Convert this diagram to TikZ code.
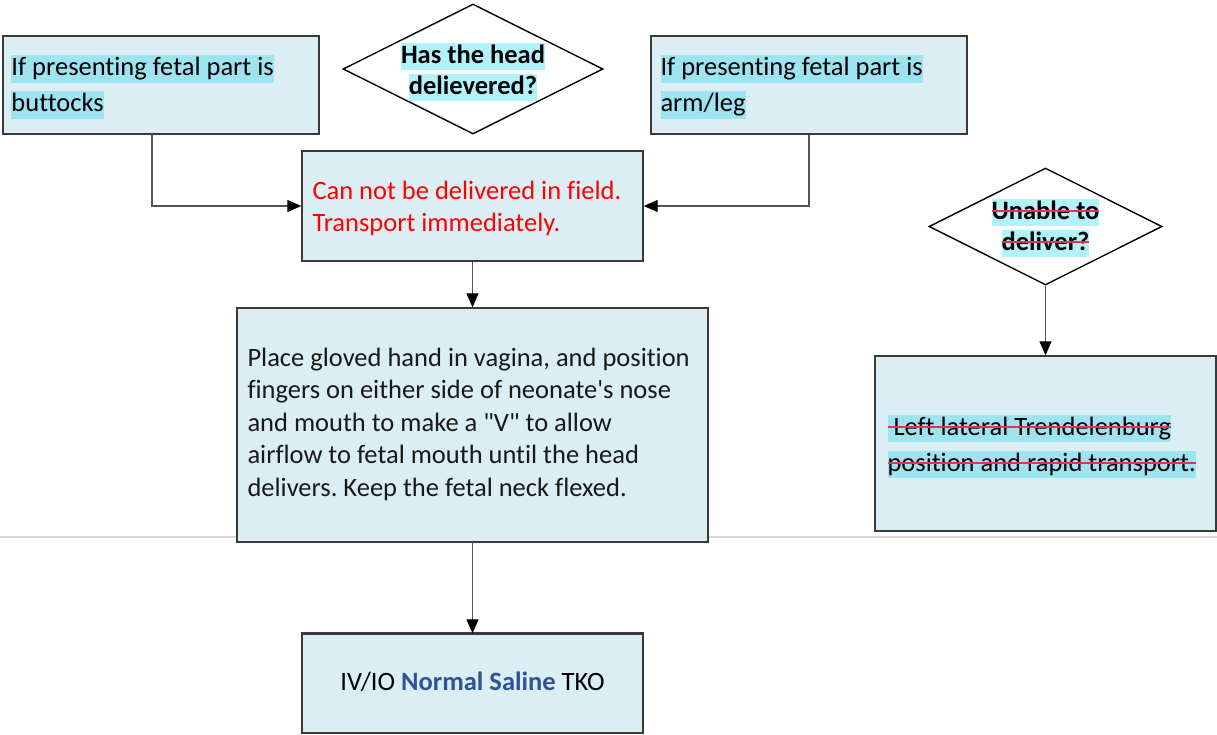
\documentclass[tikz,border=0pt]{standalone}
\usepackage{fontspec}
\newfontfamily\carl{Carlito}[Ligatures=NoCommon]
\usetikzlibrary{shapes.geometric,arrows.meta}
\definecolor{boxfill}{HTML}{DAEEF3}
\definecolor{hlbox}{HTML}{9DE3F0}
\definecolor{hldia}{HTML}{B2F3FB}
\definecolor{strikered}{HTML}{E0344F}
\definecolor{bordercol}{HTML}{3A3A3A}
\definecolor{linecol}{HTML}{555555}
\definecolor{dividercol}{HTML}{D9D9D9}
\definecolor{salineblue}{HTML}{2F5496}
\newcommand\fsz[2]{\fontsize{#1}{#2}\selectfont}
\newcommand\hlt[2][hlbox]{{\setlength\fboxsep{0pt}\colorbox{#1}{\rule[-0.25em]{0pt}{1.02em}#2}}}
\newsavebox\strkbx
\newcommand\strk[1]{\sbox\strkbx{#1}\rlap{\usebox\strkbx}\textcolor{strikered}{\rule[0.29em]{\wd\strkbx}{1.4pt}}}
\tikzset{
  box/.style={draw=bordercol, line width=1.4pt, fill=boxfill, rectangle, inner sep=0pt},
  txt/.style={inner sep=0pt, align=left, anchor=west, font=\carl\frenchspacing\fsz{26.5}{32}},
  txtwide/.style={txt, font=\carl\frenchspacing\fsz{26.5}{36}},
  diashape/.style={draw=black, line width=1.4pt, fill=white, diamond, inner sep=0pt},
  diatext/.style={inner sep=0pt, align=center, font=\carl\frenchspacing\bfseries\fsz{26.5}{31}},
  conn/.style={draw=linecol, line width=1.2pt, -{Triangle[length=14pt,width=12pt,fill=black,color=black]}},
}
\begin{document}
\begin{tikzpicture}[x=1pt,y=-1pt]
\useasboundingbox (0,0) rectangle (1217,734);
\draw[dividercol, line width=2.2pt] (0,537) -- (1217,537);
% top left box
\node[box, minimum width=316pt, minimum height=98pt] (a) at (161,85) {};
\node[txtwide] (at) at ([xshift=9pt,yshift=-2pt]a.west)
  {\hlt{If presenting fetal part is}\\\hlt{buttocks}};
% diamond head delivered
\node[diashape, minimum width=260pt, minimum height=130pt] (d1) at (473,69) {};
\node[diatext] (d1t) at (473,72)
  {\hlt[hldia]{Has the head}\\\hlt[hldia]{delievered?}};
% top right box
\node[box, minimum width=316pt, minimum height=98pt] (b) at (809,85) {};
\node[txtwide] (bt) at ([xshift=10pt,yshift=-2pt]b.west)
  {\hlt{If presenting fetal part is}\\\hlt{arm/leg}};
% cannot deliver
\node[box, minimum width=341pt, minimum height=110pt] (c) at (472.5,206) {};
\node[txt, text=red] (ct) at ([xshift=11pt,yshift=-2pt]c.west)
  {Can not be delivered in field.\\Transport immediately.};
% place gloved hand
\node[box, minimum width=471pt, minimum height=234pt] (d) at (472.5,425) {};
\node[txt, font=\carl\frenchspacing\fsz{26.5}{32.5}, text={black!90}] (dt) at ([xshift=11pt,yshift=1pt]d.west)
  {Place gloved hand in vagina, and position\\fingers on either side of neonate's nose\\and mouth to make a "V" to allow\\airflow to fetal mouth until the head\\delivers. Keep the fetal neck flexed.};
% IV/IO
\node[box, minimum width=341pt, minimum height=99pt] (e) at (472.5,683.5) {};
\node[txt, anchor=center] (et) at ([yshift=2pt]e.center)
  {IV/IO {\bfseries\color{salineblue}Normal Saline} TKO};
\draw[bordercol, line width=3pt] (e.north west) -- (e.north east);
% unable to deliver
\node[diashape, minimum width=233pt, minimum height=117pt] (d2) at (1045.5,226.5) {};
\node[diatext] (d2t) at (1045.5,228)
  {\hlt[hldia]{\strk{Unable to}}\\\hlt[hldia]{\strk{deliver?}}};
% left lateral
\node[box, minimum width=341pt, minimum height=175pt] (f) at (1045.5,443.5) {};
\node[txtwide] (ft) at ([xshift=13pt,yshift=-3pt]f.west)
  {\hlt{\strk{ Left lateral Trendelenburg}}\\\hlt{\strk{position and rapid transport.}}};
% connectors
\draw[conn] ([xshift=-9pt]a.south) |- (c.west);
\draw[conn] (b.south) |- (c.east);
\draw[conn] (c.south) -- (d.north);
\draw[conn] (d.south) -- (e.north);
\draw[conn] (d2.south) -- (f.north);
\end{tikzpicture}
\end{document}
